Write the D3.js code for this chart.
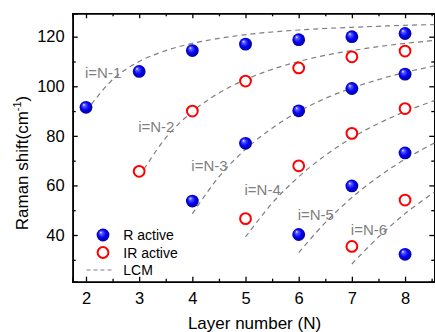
<!DOCTYPE html>
<html>
<head>
<meta charset="utf-8">
<script src="https://cdn.jsdelivr.net/npm/d3@7"></script>
<style>
  body { margin: 0; background: #fff; }
  svg { display: block; font-family: "Liberation Sans", Arial, sans-serif; }
</style>
</head>
<body>
<svg id="chart" width="435" height="332"></svg>
<script>
// measured points: [layer number N, Raman shift]
var rActive = [[2, 91.5], [3, 106], [4, 114.4], [5, 117], [6, 118.8], [7, 120], [8, 121.3],
               [4, 53.7], [5, 77], [6, 90.1], [7, 99.1], [8, 104.9],
               [6, 40.2], [7, 59.8], [8, 73.1],
               [8, 32.2]];
var irActive = [[3, 65.7], [4, 90], [5, 102.1], [6, 107.4], [7, 111.9], [8, 114.2],
                [5, 46.6], [6, 67.9], [7, 81], [8, 91],
                [7, 35.4], [8, 54.1]];

// LCM dashed branches
var lcmN1 = [[2, 89.8], [2.5, 102.7], [3, 110], [3.5, 114.4], [4, 117.3], [4.5, 119.3], [5, 120.8], [5.5, 121.9], [6, 122.7], [6.5, 123.3], [7, 123.8], [7.5, 124.2], [8, 124.6], [8.55, 124.9]];
var lcmN2 = [[3, 63.5], [3.5, 79.2], [4, 89.8], [4.5, 97.3], [5, 102.7], [5.5, 106.8], [6, 110], [6.5, 112.5], [7, 114.4], [7.5, 116], [8, 117.3], [8.55, 118.5]];
var lcmN3 = [[4, 48.6], [4.5, 63.5], [5, 74.6], [5.5, 83.1], [6, 89.8], [6.5, 95.1], [7, 99.3], [7.5, 102.7], [8, 105.6], [8.55, 108.2]];
var lcmN4 = [[5, 39.2], [5.5, 52.8], [6, 63.5], [6.5, 72.1], [7, 79.2], [7.5, 85], [8, 89.8], [8.55, 94.2]];
var lcmN5 = [[6, 32.9], [6.5, 45], [7, 55.1], [7.5, 63.5], [8, 70.6], [8.55, 77.1]];
var lcmN6 = [[7, 28.3], [7.5, 39.2], [8, 48.6], [8.55, 57.3]];
var lcmLines = [lcmN1, lcmN2, lcmN3, lcmN4, lcmN5, lcmN6];

// branch labels with the (N, shift) where each one sits
var branchLabels = [
  {text: "i=N-1", x: 2.0, y: 103.2},
  {text: "i=N-2", x: 3.0, y: 81.6},
  {text: "i=N-3", x: 4.0, y: 66},
  {text: "i=N-4", x: 5.0, y: 56},
  {text: "i=N-5", x: 6.0, y: 46},
  {text: "i=N-6", x: 7.0, y: 40}
];

var xTicks = [2, 3, 4, 5, 6, 7, 8];
var yTicks = [40, 60, 80, 100, 120];

var margin = {top: 13.3, right: 0.7, bottom: 50.3, left: 72.7};
var width = 435 - margin.left - margin.right;
var height = 332 - margin.top - margin.bottom;

var svg = d3.select("#chart");

var defs = svg.append("defs");
var grad = defs.append("radialGradient")
    .attr("id", "ball")
    .attr("cx", "50%").attr("cy", "50%").attr("r", "55%")
    .attr("fx", "32%").attr("fy", "28%");
grad.append("stop").attr("offset", "0%").attr("stop-color", "#f4f4ff");
grad.append("stop").attr("offset", "20%").attr("stop-color", "#5a5aff");
grad.append("stop").attr("offset", "55%").attr("stop-color", "#0505f5");
grad.append("stop").attr("offset", "100%").attr("stop-color", "#00008c");

var g = svg.append("g")
    .attr("transform", "translate(" + margin.left + "," + margin.top + ")");

var xScale = d3.scaleLinear().domain([1.75, 8.55]).range([0, width]);
var yScale = d3.scaleLinear().domain([21.16, 129.44]).range([height, 0]);

var xMinor = d3.range(2.5, 8.55, 1);
var yMinor = d3.range(30, 129, 20);

// axes: ticks point inward on all four sides
g.append("g").attr("class", "axis")
    .attr("transform", "translate(0," + height + ")")
    .call(d3.axisBottom(xScale).tickValues(xTicks).tickSize(-5).tickPadding(11).tickFormat(d3.format("d")));
g.append("g").attr("class", "axis minor")
    .attr("transform", "translate(0," + height + ")")
    .call(d3.axisBottom(xScale).tickValues(xMinor).tickSize(-3).tickFormat(""));
g.append("g").attr("class", "axis")
    .call(d3.axisTop(xScale).tickValues(xTicks).tickSize(-5).tickFormat(""));
g.append("g").attr("class", "axis minor")
    .call(d3.axisTop(xScale).tickValues(xMinor).tickSize(-3).tickFormat(""));
g.append("g").attr("class", "axis")
    .call(d3.axisLeft(yScale).tickValues(yTicks).tickSize(-5).tickPadding(8).tickFormat(d3.format("d")));
g.append("g").attr("class", "axis minor")
    .call(d3.axisLeft(yScale).tickValues(yMinor).tickSize(-3).tickFormat(""));
g.append("g").attr("class", "axis")
    .attr("transform", "translate(" + width + ",0)")
    .call(d3.axisRight(yScale).tickValues(yTicks).tickSize(-5).tickFormat(""));
g.append("g").attr("class", "axis minor")
    .attr("transform", "translate(" + width + ",0)")
    .call(d3.axisRight(yScale).tickValues(yMinor).tickSize(-3).tickFormat(""));

g.selectAll(".axis path").attr("stroke", "#000").attr("stroke-width", 1.6);
g.selectAll(".axis line").attr("stroke", "#000").attr("stroke-width", 1.3);
g.selectAll(".axis text")
    .attr("fill", "#000")
    .style("font-size", "16.5px")
    .style("font-family", "'Liberation Sans', Arial, sans-serif");

// LCM curves
var line = d3.line()
    .x(function (d) { return xScale(d[0]); })
    .y(function (d) { return yScale(d[1]); })
    .curve(d3.curveCatmullRom);

g.selectAll(".lcm")
    .data(lcmLines)
    .enter()
    .append("path")
    .attr("class", "lcm")
    .attr("d", line)
    .attr("fill", "none")
    .attr("stroke", "#7f7f7f")
    .attr("stroke-width", 1.2)
    .attr("stroke-dasharray", "5,4");

g.selectAll(".branch")
    .data(branchLabels)
    .enter()
    .append("text")
    .attr("class", "branch")
    .attr("x", function (d) { return xScale(d.x) - 1; })
    .attr("y", function (d) { return yScale(d.y); })
    .attr("fill", "#7f7f7f")
    .style("font-size", "15px")
    .text(function (d) { return d.text; });

// markers
g.selectAll(".ir")
    .data(irActive)
    .enter()
    .append("circle")
    .attr("class", "ir")
    .attr("cx", function (d) { return xScale(d[0]); })
    .attr("cy", function (d) { return yScale(d[1]); })
    .attr("r", 5.4)
    .attr("fill", "#fff")
    .attr("stroke", "#ff0000")
    .attr("stroke-width", 2);

g.selectAll(".r")
    .data(rActive)
    .enter()
    .append("circle")
    .attr("class", "r")
    .attr("cx", function (d) { return xScale(d[0]); })
    .attr("cy", function (d) { return yScale(d[1]); })
    .attr("r", 6.4)
    .attr("fill", "url(#ball)");

// legend
var legend = svg.append("g").attr("transform", "translate(103,235)");
legend.append("circle").attr("cx", 0).attr("cy", 0).attr("r", 6.4).attr("fill", "url(#ball)");
legend.append("circle").attr("cx", 0).attr("cy", 17.5).attr("r", 5.4)
    .attr("fill", "#fff").attr("stroke", "#ff0000").attr("stroke-width", 2);
legend.append("line").attr("x1", -16.5).attr("x2", 11).attr("y1", 35).attr("y2", 35)
    .attr("stroke", "#7f7f7f").attr("stroke-width", 1.2).attr("stroke-dasharray", "4,3");
var legendText = ["R active", "IR active", "LCM"];
legend.selectAll(".legend-text")
    .data(legendText)
    .enter()
    .append("text")
    .attr("class", "legend-text")
    .attr("x", 20.3)
    .attr("y", function (d, i) { return i * 17.5 + 5; })
    .attr("fill", "#000")
    .style("font-size", "14px")
    .text(function (d) { return d; });

// axis titles
svg.append("text")
    .attr("x", 254.5)
    .attr("y", 329)
    .attr("text-anchor", "middle")
    .style("font-size", "17px")
    .text("Layer number (N)");

var yTitle = svg.append("text")
    .attr("transform", "translate(28,163) rotate(-90)")
    .attr("text-anchor", "middle")
    .style("font-size", "17px");
yTitle.append("tspan").text("Raman shift(cm");
yTitle.append("tspan").attr("dy", -7).style("font-size", "11px").text("-1");
yTitle.append("tspan").attr("dy", 7).text(")");
</script>
</body>
</html>
